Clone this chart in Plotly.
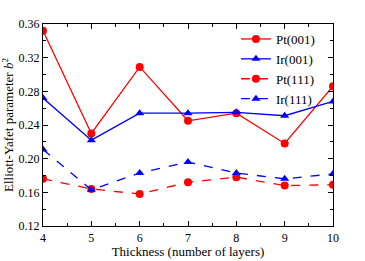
import plotly.graph_objects as go

layers = [4, 5, 6, 7, 8, 9, 10]
pt001 = [0.352, 0.230, 0.309, 0.245, 0.254, 0.218, 0.286]
ir001 = [0.272, 0.222, 0.254, 0.254, 0.255, 0.251, 0.268]
pt111 = [0.176, 0.164, 0.158, 0.172, 0.178, 0.168, 0.169]
ir111 = [0.211, 0.163, 0.183, 0.196, 0.183, 0.176, 0.182]

series = [
    ("Pt(001)", pt001, "red", "circle", "solid"),
    ("Ir(001)", ir001, "blue", "triangle-up", "solid"),
    ("Pt(111)", pt111, "red", "circle", "dash"),
    ("Ir(111)", ir111, "blue", "triangle-up", "dash"),
]

fig = go.Figure()
for name, vals, col, sym, dash in series:
    fig.add_trace(go.Scatter(
        x=layers, y=vals, name=name, mode="lines+markers",
        line=dict(color=col, width=1.3, dash=dash),
        marker=dict(color=col, symbol=sym, size=8),
    ))

axis_common = dict(
    showgrid=False, zeroline=False, showline=True, linecolor="black", linewidth=1.2,
    mirror="allticks", ticks="inside", ticklen=5, tickcolor="black", automargin=False,
    tickfont=dict(family="Liberation Serif", size=12, color="black"),
)
fig.update_xaxes(
    range=[4, 10], dtick=1, tick0=4,
    minor=dict(dtick=0.5, ticks="inside", ticklen=3, tickcolor="black"),
    title=dict(text="Thickness (number of layers)", font=dict(family="Liberation Serif", size=13, color="black"), standoff=0),
    **axis_common,
)
fig.update_yaxes(
    range=[0.12, 0.36], dtick=0.04, tick0=0.12, tickformat=".2f",
    minor=dict(dtick=0.02, ticks="inside", ticklen=3, tickcolor="black"),
    title=dict(text="Elliott-Yafet parameter <i>b</i><sup>2</sup>", font=dict(family="Liberation Serif", size=13, color="black"), standoff=3),
    **axis_common,
)
fig.update_layout(
    width=365, height=261,
    margin=dict(l=43, r=32, t=24, b=35, autoexpand=False),
    paper_bgcolor="white", plot_bgcolor="white",
    font=dict(family="Liberation Serif", color="black"),
    legend=dict(x=0.955, y=1.0, xanchor="right", yanchor="top",
                bgcolor="rgba(0,0,0,0)", font=dict(size=13, family="Liberation Serif"),
                tracegroupgap=0, itemwidth=30),
    showlegend=True,
)
fig.write_html("out.html", config={"displayModeBar": False},
               post_script="document.body.style.margin='0';document.body.style.overflow='hidden';")
